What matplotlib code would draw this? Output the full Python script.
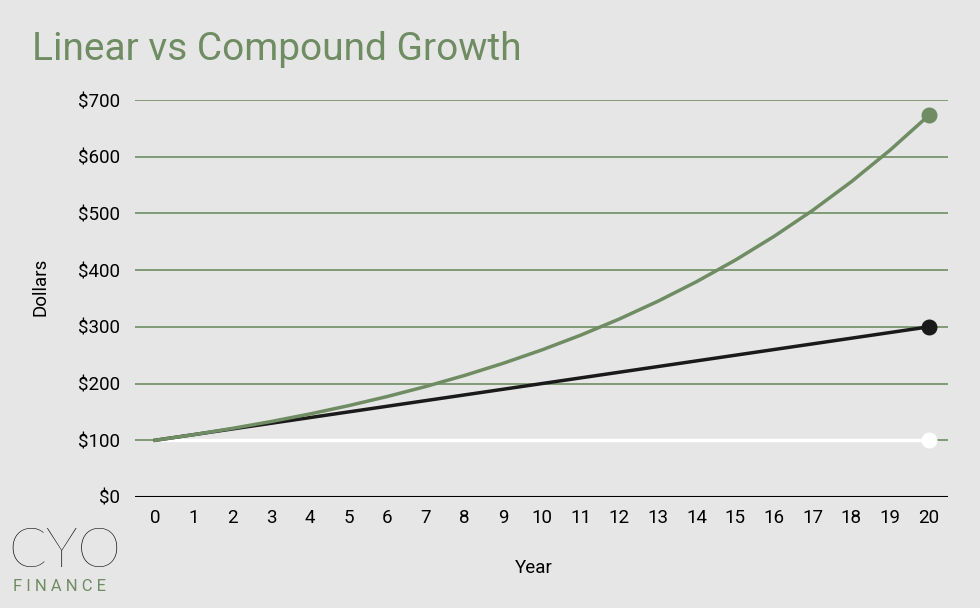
import matplotlib
matplotlib.use("Agg")
import matplotlib.pyplot as plt
from matplotlib.ticker import FuncFormatter

years = list(range(0, 21))
compound = [100.00, 110.00, 121.00, 133.10, 146.41, 161.05, 177.16, 194.87, 214.36,
            235.79, 259.37, 285.31, 313.84, 345.23, 379.75, 417.72, 459.50, 505.45,
            555.99, 611.59, 672.75]
linear = [100, 110, 120, 130, 140, 150, 160, 170, 180, 190, 200, 210, 220, 230,
          240, 250, 260, 270, 280, 290, 300]
principal = [100] * 21
y_ticks = [0, 100, 200, 300, 400, 500, 600, 700]

BG = "#e6e6e6"
GREEN = "#6f8c63"
plt.rcParams['font.family'] = ['Roboto', 'DejaVu Sans']

fig = plt.figure(figsize=(9.8, 6.08), dpi=100, facecolor=BG)
ax = fig.add_axes([0.138, 0.1826, 0.829, 0.6529], facecolor=BG)

ax.set_xlim(-0.517, 20.49)
ax.set_ylim(0, 700)
ax.set_yticks(y_ticks)
ax.yaxis.set_major_formatter(FuncFormatter(lambda v, p: f"${int(v)}"))
ax.set_xticks(years)
for v in y_ticks[1:]:
    ax.axhline(v, color=GREEN, lw=1.2, zorder=1)
ax.axhline(0, color="black", lw=1.5, zorder=2)
for s in ax.spines.values():
    s.set_visible(False)
ax.tick_params(length=0, labelsize=13.5, colors="black")
ax.tick_params(axis='y', pad=11)
ax.tick_params(axis='x', pad=9)

ax.plot(years, principal, color="white", lw=2.5, zorder=3, solid_capstyle='butt')
ax.plot(years, linear, color="#1a1a1a", lw=2.5, zorder=4)
ax.plot(years, compound, color=GREEN, lw=2.5, zorder=5)
ax.plot(years[-1], principal[-1], 'o', color="white", ms=10.5, zorder=6, clip_on=False)
ax.plot(years[-1], linear[-1], 'o', color="#1a1a1a", ms=10.5, zorder=6, clip_on=False)
ax.plot(years[-1], compound[-1], 'o', color=GREEN, ms=10.5, zorder=6, clip_on=False)

ax.set_ylabel("Dollars", fontsize=13.5)
ax.yaxis.set_label_coords(-0.105, 0.53)
ax.set_xlabel("Year", fontsize=13.5)
ax.xaxis.set_label_coords(0.49, -0.155)

fig.text(0.033, 0.918, "Linear vs Compound Growth", color=GREEN, fontsize=28,
         ha="left", va="center")
fig.text(0.008, 0.093, "CYO", color="black", fontsize=40, fontweight="light",
         ha="left", va="center", family=['Lato', 'Roboto', 'DejaVu Sans'])
fig.text(0.013, 0.036, "F I N A N C E", color=GREEN, fontsize=12,
         ha="left", va="center")

fig.savefig("out.png", dpi=100, facecolor=BG)
